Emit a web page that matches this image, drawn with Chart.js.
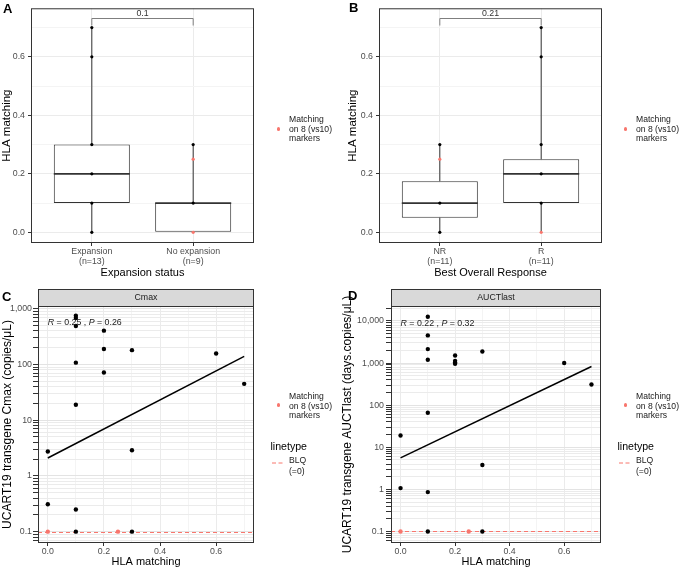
<!DOCTYPE html>
<html>
<head>
<meta charset="utf-8">
<title>HLA matching vs expansion, response and UCART19 kinetics</title>
<script src="https://cdn.jsdelivr.net/npm/chart.js@4.4.1/dist/chart.umd.min.js"></script>
<style>
  body { margin: 0; background: #fff; font-family: "Liberation Sans", Arial, sans-serif; }
  #wrap { position: relative; width: 680px; height: 569px; overflow: hidden; }
  canvas { position: absolute; }
  .tag { position: absolute; font-weight: bold; font-size: 13px; line-height: 13px; color: #000; }
  .key { position: absolute; font-size: 8.6px; line-height: 9.5px; color: #1a1a1a; white-space: nowrap; }
  .keytitle { position: absolute; font-size: 10.6px; line-height: 12px; color: #000; }
  .dot { position: absolute; width: 3.4px; height: 3.4px; border-radius: 50%; background: #F8766D; }
  svg { position: absolute; }
</style>
</head>
<body>
<div id="wrap">
  <canvas id="chart-a" width="258" height="285" style="left:0;top:0"></canvas>
  <canvas id="chart-b" width="266" height="285" style="left:340px;top:0"></canvas>
  <canvas id="chart-c" width="258" height="289" style="left:0;top:280px"></canvas>
  <canvas id="chart-d" width="265" height="289" style="left:340px;top:280px"></canvas>

  <div class="tag" style="left:3px;top:2px">A</div>
  <div class="tag" style="left:349px;top:1px">B</div>
  <div class="tag" style="left:2px;top:290px">C</div>
  <div class="tag" style="left:348px;top:289px">D</div>

  <div class="dot" style="left:276.5px;top:127.3px"></div>
  <div class="key" style="left:289px;top:115px">Matching<br>on 8 (vs10)<br>markers</div>

  <div class="dot" style="left:623.5px;top:127.3px"></div>
  <div class="key" style="left:636px;top:115px">Matching<br>on 8 (vs10)<br>markers</div>

  <div class="dot" style="left:276.5px;top:403.3px"></div>
  <div class="key" style="left:289px;top:392px">Matching<br>on 8 (vs10)<br>markers</div>
  <div class="keytitle" style="left:270.5px;top:439.5px">linetype</div>
  <svg style="left:272px;top:460px" width="12" height="6"><line x1="0" y1="3" x2="12" y2="3" stroke="#F8766D" stroke-width="1" stroke-dasharray="4,2.5"/></svg>
  <div class="key" style="left:289px;top:455px;line-height:10.5px">BLQ<br>(=0)</div>

  <div class="dot" style="left:623.5px;top:403.3px"></div>
  <div class="key" style="left:636px;top:392px">Matching<br>on 8 (vs10)<br>markers</div>
  <div class="keytitle" style="left:617.5px;top:439.5px">linetype</div>
  <svg style="left:619px;top:460px" width="12" height="6"><line x1="0" y1="3" x2="12" y2="3" stroke="#F8766D" stroke-width="1" stroke-dasharray="4,2.5"/></svg>
  <div class="key" style="left:636px;top:455px;line-height:10.5px">BLQ<br>(=0)</div>
</div>

<script>
// ---- data: panel A (expansion status) ----
const groupsA = ["Expansion", "No expansion"];
const countsA = [13, 9];
const q1A = [0.1, 0.0];
const medA = [0.2, 0.1];
const q3A = [0.3, 0.1];
const loA = [0.0, 0.0];
const hiA = [0.7, 0.3];
const expBlack = [0.7, 0.6, 0.3, 0.2, 0.1, 0.0];
const noExpBlack = [0.3, 0.1];
const noExpRed = [0.25, 0.0];
const pValueA = "0.1";

// ---- data: panel B (best overall response) ----
const groupsB = ["NR", "R"];
const countsB = [11, 11];
const q1B = [0.05, 0.1];
const medB = [0.1, 0.2];
const q3B = [0.175, 0.25];
const loB = [0.0, 0.0];
const hiB = [0.3, 0.7];
const nrBlack = [0.3, 0.1, 0.0];
const nrRed = [0.25];
const rBlack = [0.7, 0.6, 0.3, 0.2, 0.1];
const rRed = [0.0];
const pValueB = "0.21";

const hlaTicks = [0, 0.1, 0.2, 0.3, 0.4, 0.5, 0.6, 0.7];
const bracketLevel = 0.733;

// ---- data: panel C (Cmax) ----
const cmaxX = [0, 0, 0.1, 0.1, 0.1, 0.1, 0.1, 0.1, 0.1, 0.2, 0.2, 0.2, 0.3, 0.3, 0.3, 0.6, 0.7];
const cmaxY = [2.75, 0.31, 750, 680, 490, 108, 19, 0.25, 0.1, 405, 190, 72, 181, 2.9, 0.1, 158, 45];
const cmaxRedX = [0, 0.25];
const cmaxRedY = [0.1, 0.1];
const fitX = [0, 0.7];
const fitCmax = [2.1, 140];
const corrCmax = ["0.25", "0.26"];
const corrCmaxAt = [0, 560];

// ---- data: panel D (AUCTlast) ----
const aucX = [0, 0, 0.1, 0.1, 0.1, 0.1, 0.1, 0.1, 0.1, 0.2, 0.2, 0.2, 0.2, 0.3, 0.3, 0.3, 0.6, 0.7];
const aucY = [19, 1.07, 12600, 4550, 2150, 1200, 66, 0.86, 0.1, 1510, 1130, 1030, 960, 1880, 3.8, 0.1, 1000, 310];
const aucRedX = [0, 0.25];
const aucRedY = [0.1, 0.1];
const fitAuc = [5.6, 830];
const corrAuc = ["0.22", "0.32"];
const corrAucAt = [0, 8500];

const blqLevel = 0.1;

Chart.defaults.font.family = '"Liberation Sans", Arial, sans-serif';
Chart.defaults.color = "#4D4D4D";
Chart.defaults.animation = false;

const RED = "#F8766D";
const FONT = '"Liberation Sans", Arial, sans-serif';

function isEvenTenth(v) { return Math.round(v * 10) % 2 === 0; }
function isDecade(v) { const e = Math.log10(v); return Math.abs(e - Math.round(e)) < 1e-9; }

// panel border + optional facet strip
function frameLayer(strip) {
    return {
        id: "frameLayer",
        afterDraw(chart) {
            const { ctx, chartArea: a } = chart;
            ctx.save();
            ctx.strokeStyle = "#333333";
            ctx.lineWidth = 1;
            ctx.strokeRect(a.left + 0.5, a.top + 0.5, a.right - a.left - 1, a.bottom - a.top - 1);
            if (strip) {
                const h = 17;
                ctx.fillStyle = "#D9D9D9";
                ctx.fillRect(a.left, a.top - h, a.right - a.left, h);
                ctx.strokeRect(a.left + 0.5, a.top - h + 0.5, a.right - a.left - 1, h);
                ctx.fillStyle = "#1A1A1A";
                ctx.font = "8.8px " + FONT;
                ctx.textAlign = "center";
                ctx.textBaseline = "middle";
                ctx.fillText(strip, (a.left + a.right) / 2, a.top - h / 2);
            }
            ctx.restore();
        }
    };
}

// whiskers + median on top of the floating-bar boxes
function boxLayer(q1, med, q3, lo, hi) {
    return {
        id: "boxLayer",
        afterDatasetDraw(chart, args) {
            if (args.index !== 0) return;
            const { ctx, scales: { x, y } } = chart;
            ctx.save();
            ctx.strokeStyle = "#333333";
            q1.forEach((q, i) => {
                const cx = x.getPixelForValue(i + 1);
                const half = x.getPixelForValue(i + 1.375) - cx;
                ctx.lineWidth = 1;
                ctx.beginPath();
                ctx.moveTo(cx, y.getPixelForValue(q3[i]));
                ctx.lineTo(cx, y.getPixelForValue(hi[i]));
                ctx.moveTo(cx, y.getPixelForValue(q));
                ctx.lineTo(cx, y.getPixelForValue(lo[i]));
                ctx.stroke();
                ctx.lineWidth = 1.6;
                const my = y.getPixelForValue(med[i]);
                ctx.beginPath();
                ctx.moveTo(cx - half, my);
                ctx.lineTo(cx + half, my);
                ctx.stroke();
            });
            ctx.restore();
        }
    };
}

// p-value bracket between the two groups
function bracketLayer(label) {
    return {
        id: "bracketLayer",
        afterDraw(chart) {
            const { ctx, scales: { x, y } } = chart;
            const x1 = x.getPixelForValue(1), x2 = x.getPixelForValue(2);
            const yb = Math.round(y.getPixelForValue(bracketLevel)) + 0.5;
            ctx.save();
            ctx.strokeStyle = "#7F7F7F";
            ctx.lineWidth = 1;
            ctx.beginPath();
            ctx.moveTo(x1, yb + 7); ctx.lineTo(x1, yb); ctx.lineTo(x2, yb); ctx.lineTo(x2, yb + 7);
            ctx.stroke();
            ctx.fillStyle = "#333333";
            ctx.font = "8.8px " + FONT;
            ctx.textAlign = "center";
            ctx.textBaseline = "middle";
            ctx.fillText(label, (x1 + x2) / 2, yb - 5);
            ctx.restore();
        }
    };
}

// red dashed BLQ line + correlation label
function kineticsLayer(corr, at) {
    return {
        id: "kineticsLayer",
        beforeDatasetsDraw(chart) {
            const { ctx, chartArea: a, scales: { y } } = chart;
            const yy = Math.round(y.getPixelForValue(blqLevel)) + 0.5;
            ctx.save();
            ctx.strokeStyle = RED;
            ctx.lineWidth = 1;
            ctx.setLineDash([4, 3]);
            ctx.beginPath();
            ctx.moveTo(a.left, yy);
            ctx.lineTo(a.right, yy);
            ctx.stroke();
            ctx.restore();
        },
        afterDraw(chart) {
            const { ctx, scales: { x, y } } = chart;
            let px = x.getPixelForValue(at[0]);
            const py = y.getPixelForValue(at[1]);
            const parts = [["R", true], [" = " + corr[0] + " , ", false], ["P", true], [" = " + corr[1], false]];
            ctx.save();
            ctx.fillStyle = "#1A1A1A";
            ctx.textAlign = "left";
            ctx.textBaseline = "middle";
            parts.forEach(([t, it]) => {
                ctx.font = (it ? "italic " : "") + "8.8px " + FONT;
                ctx.fillText(t, px, py);
                px += ctx.measureText(t).width;
            });
            ctx.restore();
        }
    };
}

function points(xs, ys, color, r) {
    return {
        type: "scatter",
        data: xs.map((x, i) => ({ x: x, y: ys[i] })),
        pointRadius: r,
        pointBackgroundColor: color,
        pointBorderColor: color,
        pointBorderWidth: 0,
        order: 0
    };
}

function column(pos, values, color) {
    return points(values.map(() => pos), values, color, 1.6);
}

function boxChart(id, groups, counts, q1, med, q3, lo, hi, pts, xTitle, yWidth, yTitlePad, pLabel) {
    new Chart(document.getElementById(id), {
        type: "scatter",
        data: {
            datasets: [{
                type: "bar",
                data: groups.map((g, i) => ({ x: i + 1, y: [q1[i], q3[i]] })),
                backgroundColor: "#FFFFFF",
                borderColor: "#333333",
                borderWidth: 1,
                borderSkipped: false,
                barPercentage: 0.75,
                categoryPercentage: 1,
                grouped: false,
                order: 5
            }].concat(pts)
        },
        options: {
            responsive: false,
            layout: { padding: { top: 1, right: 3, left: 0, bottom: 0 } },
            plugins: { legend: { display: false }, tooltip: { enabled: false } },
            scales: {
                x: {
                    type: "linear", min: 0.4, max: 2.6, offset: false,
                    afterBuildTicks: s => { s.ticks = groups.map((g, i) => ({ value: i + 1 })); },
                    afterFit: s => { s.height = 42; },
                    ticks: {
                        autoSkip: false, maxRotation: 0, padding: 1, color: "#4D4D4D",
                        font: { size: 8.8, lineHeight: 1.14 },
                        callback: v => [groups[v - 1], "(n=" + counts[v - 1] + ")"]
                    },
                    grid: { color: "#EBEBEB", tickLength: 3, tickColor: "#333333", offset: false },
                    border: { display: false },
                    title: { display: true, text: xTitle, color: "#000", font: { size: 11 }, padding: { top: 0, bottom: 5 } }
                },
                y: {
                    type: "linear", min: -0.0365, max: 0.766,
                    afterBuildTicks: s => { s.ticks = hlaTicks.map(v => ({ value: v })); },
                    afterFit: s => { s.width = yWidth; },
                    ticks: {
                        autoSkip: false, padding: 3, color: "#4D4D4D", font: { size: 8.8 },
                        callback: v => isEvenTenth(v) ? v.toFixed(1) : ""
                    },
                    grid: {
                        tickLength: 3,
                        color: c => isEvenTenth(c.tick.value) ? "#EBEBEB" : "#F4F4F4",
                        tickColor: c => isEvenTenth(c.tick.value) ? "#333333" : "rgba(0,0,0,0)"
                    },
                    border: { display: false },
                    title: { display: true, text: "HLA matching", color: "#000", font: { size: 11.5 }, padding: { top: yTitlePad, bottom: 0 } }
                }
            }
        },
        plugins: [boxLayer(q1, med, q3, lo, hi), frameLayer(null), bracketLayer(pLabel)]
    });
}

function logTicksFor(lo, hi) {
    const out = [];
    for (let e = -2; e <= 5; e++) {
        for (let m = 1; m <= 9; m++) {
            const v = m * Math.pow(10, e);
            if (v >= lo && v <= hi) out.push(v);
        }
    }
    return out;
}

function kineticsChart(id, xs, ys, redX, redY, fitY, strip, yTitle, yMin, yMax, yWidth, tickPad, corr, corrAt) {
    new Chart(document.getElementById(id), {
        type: "scatter",
        data: {
            datasets: [
                {
                    type: "line",
                    data: fitX.map((x, i) => ({ x: x, y: fitY[i] })),
                    borderColor: "#000000",
                    borderWidth: 1.5,
                    pointRadius: 0,
                    fill: false,
                    order: 3
                },
                points(xs, ys, "#000000", 2.2),
                points(redX, redY, RED, 2.2)
            ]
        },
        options: {
            responsive: false,
            layout: { padding: { top: 26, right: 3, left: 0, bottom: 0 } },
            plugins: { legend: { display: false }, tooltip: { enabled: false } },
            scales: {
                x: {
                    type: "linear", min: -0.035, max: 0.735,
                    afterBuildTicks: s => { s.ticks = hlaTicks.map(v => ({ value: v })); },
                    afterFit: s => { s.height = 26; },
                    ticks: {
                        autoSkip: false, maxRotation: 0, padding: 0, color: "#4D4D4D", font: { size: 8.8 },
                        callback: v => isEvenTenth(v) ? v.toFixed(1) : ""
                    },
                    grid: {
                        tickLength: 3,
                        color: c => isEvenTenth(c.tick.value) ? "#EBEBEB" : "#F4F4F4",
                        tickColor: c => isEvenTenth(c.tick.value) ? "#333333" : "rgba(0,0,0,0)"
                    },
                    border: { display: false },
                    title: { display: true, text: "HLA matching", color: "#000", font: { size: 11 }, padding: { top: 0, bottom: 0 } }
                },
                y: {
                    type: "logarithmic", min: yMin, max: yMax,
                    afterBuildTicks: s => { s.ticks = logTicksFor(yMin, yMax).map(v => ({ value: v })); },
                    afterFit: s => { s.width = yWidth; },
                    ticks: {
                        autoSkip: false, padding: tickPad, color: "#4D4D4D", font: { size: 8.8 },
                        callback: v => isDecade(v) ? (v >= 1 ? Math.round(v).toLocaleString("en-US") : String(v)) : ""
                    },
                    grid: {
                        tickLength: 5,
                        color: c => isDecade(c.tick.value) ? "#E3E3E3" : "#EBEBEB",
                        tickColor: "#333333"
                    },
                    border: { display: false },
                    title: { display: true, text: yTitle, color: "#000", font: { size: 12 }, padding: { top: 0, bottom: 0 } }
                }
            }
        },
        plugins: [kineticsLayer(corr, corrAt), frameLayer(strip)]
    });
}

// A. HLA matching by expansion status
boxChart("chart-a", groupsA, countsA, q1A, medA, q3A, loA, hiA, [
    column(1, expBlack, "#000000"),
    column(2, noExpBlack, "#000000"),
    column(2, noExpRed, RED)
], "Expansion status", 31, 0, pValueA);

// B. HLA matching by best overall response
boxChart("chart-b", groupsB, countsB, q1B, medB, q3B, loB, hiB, [
    column(1, nrBlack, "#000000"),
    column(1, nrRed, RED),
    column(2, rBlack, "#000000"),
    column(2, rRed, RED)
], "Best Overall Response", 39, 6, pValueB);

// C. Cmax vs HLA matching
kineticsChart("chart-c", cmaxX, cmaxY, cmaxRedX, cmaxRedY, fitCmax, "Cmax",
    "UCART19 transgene Cmax (copies/μL)", 0.0626, 1122, 38, 1, corrCmax, corrCmaxAt);

// D. AUCTlast vs HLA matching
kineticsChart("chart-d", aucX, aucY, aucRedX, aucRedY, fitAuc, "AUCTlast",
    "UCART19 transgene AUCTlast (days.copies/μL)", 0.0531, 22700, 51, 2, corrAuc, corrAucAt);
</script>
</body>
</html>
